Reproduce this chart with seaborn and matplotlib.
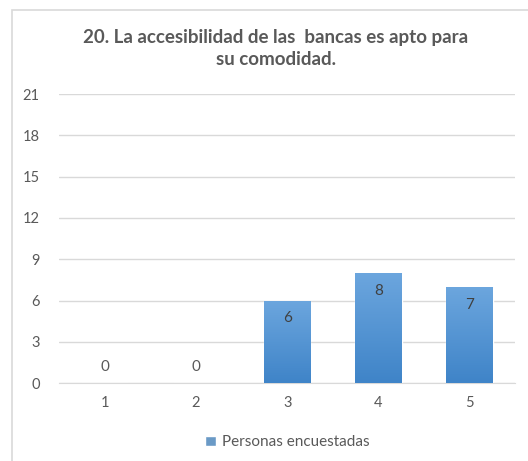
import numpy as np
import pandas as pd
import matplotlib
matplotlib.use("Agg")
import matplotlib.pyplot as plt
import seaborn as sns
from matplotlib.patches import Rectangle

# datos
categorias = ["1", "2", "3", "4", "5"]
valores = [0, 0, 6, 8, 7]
serie = "Personas encuestadas"
titulo = "20. La accesibilidad de las  bancas es apto para\nsu comodidad."

df = pd.DataFrame({"categoria": categorias, "valor": valores})

sns.set_style("white")
plt.rcParams["font.family"] = ["Lato", "DejaVu Sans"]

fig = plt.figure(figsize=(5.28, 4.61), dpi=100)
ax = fig.add_axes([0.112, 0.169, 0.864, 0.627])

# marco del gráfico
fig.patches.append(Rectangle((12 / 528, -0.1), 1.2, (461 - 10) / 461 + 0.1,
                             transform=fig.transFigure, fill=False,
                             edgecolor="#D9D9D9", linewidth=1.2))

sns.barplot(data=df, x="categoria", y="valor", color="#5B9BD5", width=0.51,
            ax=ax, label=serie, zorder=2)

# degradado en las barras
grad = np.linspace(0, 1, 100).reshape(-1, 1)
cmap = matplotlib.colors.LinearSegmentedColormap.from_list("b", ["#3F84C8", "#6CA6DE"])
for p in ax.patches:
    x0, y0 = p.get_x(), p.get_y()
    w, h = p.get_width(), p.get_height()
    if h <= 0:
        continue
    im = ax.imshow(grad, extent=[x0, x0 + w, y0, y0 + h], origin="lower",
                   aspect="auto", cmap=cmap, zorder=3)
    im.set_clip_path(p)

# etiquetas de valores
for i, v in enumerate(valores):
    if v > 0:
        ax.text(i, v - 1.3, str(v), ha="center", va="center", fontsize=11,
                color="#404040", zorder=4)
    else:
        ax.text(i, v + 1.2, str(v), ha="center", va="center", fontsize=11,
                color="#595959", zorder=4)

ax.set_ylim(0, 21)
ax.set_xlim(-0.5, 4.5)
ax.set_yticks(range(0, 22, 3))
ax.yaxis.grid(True, color="#D9D9D9", linewidth=1)
ax.set_axisbelow(True)
for s in ["top", "right", "left"]:
    ax.spines[s].set_visible(False)
ax.spines["bottom"].set_color("#D9D9D9")
ax.tick_params(axis="both", length=0, labelsize=10.5, labelcolor="#595959")
ax.tick_params(axis="x", pad=9)
ax.tick_params(axis="y", pad=14)
ax.set_xlabel("")
ax.set_ylabel("")

fig.text(0.522, 0.895, titulo, ha="center", va="center", fontsize=13.5,
         fontweight="bold", color="#595959", linespacing=1.3)

leg = ax.legend(loc="center", bbox_to_anchor=(0.5, -0.205), frameon=False,
                handlelength=0.7, handleheight=0.7, handletextpad=0.4,
                fontsize=11, labelcolor="#595959")

fig.savefig("out.png", dpi=100)
